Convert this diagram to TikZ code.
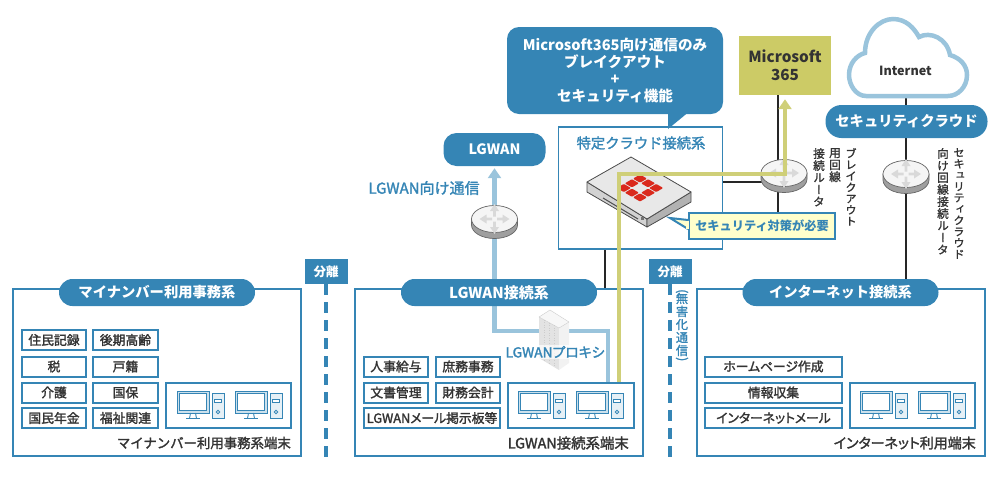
\documentclass[tikz,border=0pt]{standalone}
\usepackage{fontspec}
\setmainfont{Noto Sans CJK JP}
\newfontfamily\medfont[FakeBold=1.8]{Noto Sans CJK JP}
\newfontfamily\medfit[FakeBold=1.8, RawFeature=+palt]{Noto Sans CJK JP}
\newfontfamily\tatefont[FakeBold=1.5, RawFeature=+vert]{Noto Sans CJK JP}
\usepackage{tikz}
\usetikzlibrary{arrows.meta,backgrounds}

\definecolor{nwblue}{HTML}{3585B5}
\definecolor{nwpale}{HTML}{9AC4DC}
\definecolor{nwtext}{HTML}{333333}
\definecolor{msgreen}{HTML}{CCCB66}
\definecolor{msline}{HTML}{CFCF78}
\definecolor{alertfill}{HTML}{FFFFCC}
\definecolor{fortired}{HTML}{DA291C}

\newcommand{\sz}[1]{\fontsize{#1}{#1}\selectfont}
\newcommand{\tatesz}[2]{\tatefont\fontsize{#1}{#2}\selectfont\lineskiplimit-20pt\relax}

\tikzset{
  zonebox/.style={draw=nwblue, line width=2pt, minimum width=288pt, minimum height=167pt, inner sep=0pt},
  zonepill/.style={fill=nwblue, text=white, rounded corners=13.5pt, minimum width=196pt, minimum height=27pt, inner sep=0pt, font=\sz{14.3}\bfseries},
  jobbox/.style={draw=nwblue, line width=2pt, fill=white, text=nwtext, minimum width=64pt, minimum height=20pt, inner sep=0pt, font=\medfont\sz{12.8}},
  fitbox/.style={jobbox, font=\medfit\sz{12.8}},
  termbox/.style={draw=nwblue, line width=2pt, fill=white, minimum width=125pt, minimum height=45pt, inner sep=0pt},
  termlabel/.style={text=nwtext, anchor=east, inner sep=0pt, font=\medfont\sz{13.4}},
  sepbox/.style={fill=nwblue, text=white, minimum width=43pt, minimum height=25pt, inner sep=0pt, font=\sz{12.5}\bfseries},
  sepline/.style={draw=nwblue, line width=3.3pt, dash pattern=on 11pt off 7pt},
  blackline/.style={draw=black!85, line width=2pt},
  palelink/.style={draw=nwpale, line width=4.5pt, -{Triangle[width=13pt,length=10pt]}},
  brklink/.style={draw=msline, line width=4.5pt, -{Triangle[width=13pt,length=10pt]}},
  pcline/.style={draw=nwblue, line width=0.9pt},
  tate/.style={text=nwtext, anchor=north, align=center, inner sep=0pt, font=\tatesz{11.2}{11.3}},
  tatewide/.style={tate, font=\tatesz{11.6}{12}},
}

% two computers
\newcommand{\pcset}[2]{
  \foreach \dx in {0,58} {
    \begin{scope}[shift={(#1+\dx,#2)}]
      \draw[pcline, fill=nwpale!50] (0,0) rectangle (32,22);
      \draw[pcline, fill=white] (2.5,2.5) rectangle (29.5,19.5);
      \draw[pcline] (13.5,22) -- (12.5,27.5) -- (19.5,27.5) -- (18.5,22);
      \draw[pcline] (9,27.5) -- (23,27.5);
      \draw[pcline, fill=nwpale!25] (35,2) rectangle (47,27.5);
      \draw[pcline, fill=white] (37.5,8) rectangle (44.5,11);
      \draw[pcline, fill=white] (41,21) circle (1.7);
    \end{scope}
  }
}

% router seen from above
\newcommand{\routernode}[3]{
  \coordinate (#1) at (#2,#3);
  \begin{scope}[shift={(#2,#3)}]
    \fill[gray!75, draw=black!60, line width=0.7pt] (-23,-3) -- (-23,3) arc[start angle=180, end angle=360, x radius=23, y radius=-13.5] -- (23,-3) -- cycle;
    \draw[fill=gray!8, draw=black!60, line width=0.7pt] (0,-3) ellipse (23 and 13.5);
    \foreach \ang in {0,90,180,270} {
      \fill[gray!30, shift={(0,-3)}, rotate=\ang] (2.5,-1.4) -- (8,-1.4) -- (8,-4.5) -- (15,0) -- (8,4.5) -- (8,1.4) -- (2.5,1.4) -- cycle;
    }
  \end{scope}
}

\begin{document}
\begin{tikzpicture}[x=1pt, y=-1pt]
  \useasboundingbox (0,0) rectangle (1000,480);

  % zones
  \node[zonebox] (mynabox) at (156.5,372.5) {};
  \node[zonebox] (lgwanbox) at (498.5,372.5) {};
  \node[zonebox] (inetbox) at (840.5,372.5) {};
  \node[zonepill] (mynapill) at (157,292.5) {マイナンバー利用事務系};
  \node[zonepill, font=\sz{15}\bfseries] (lgwanpill) at (499,292.5) {LGWAN接続系};
  \node[zonepill] (inetpill) at (840.5,292.5) {インターネット接続系};

  % my number jobs
  \node[jobbox] (juki) at (54,340) {住民記録};
  \node[jobbox] (zei) at (54,366.5) {税};
  \node[jobbox] (kaigo) at (54,392.5) {介護};
  \node[jobbox] (nenkin) at (54,418) {国民年金};
  \node[jobbox, minimum width=65pt] (kouki) at (125.5,340) {後期高齢};
  \node[jobbox, minimum width=65pt] (koseki) at (125.5,366.5) {戸籍};
  \node[jobbox, minimum width=65pt] (kokuho) at (125.5,392.5) {国保};
  \node[jobbox, minimum width=65pt] (fukushi) at (125.5,418) {福祉関連};
  \node[termbox] (mynaterm) at (228.5,405.5) {};
  \pcset{177}{391}
  \node[termlabel] (mynalabel) at (291,443) {マイナンバー利用事務系端末};

  % lgwan jobs
  \node[jobbox] (kyuyo) at (396,366.5) {人事給与};
  \node[jobbox] (shomu) at (468,366.5) {庶務事務};
  \node[jobbox] (bunsho) at (396,392.5) {文書管理};
  \node[jobbox] (zaimu) at (468,392.5) {財務会計};
  \node[fitbox, minimum width=136pt] (mail) at (432,418) {LGWANメール掲示板等};
  \node[termbox, minimum width=126pt] (lgwanterm) at (571,405.5) {};
  \pcset{518}{391}
  \node[termlabel, font=\medfont\sz{14.4}] (lgwanlabel) at (629,443) {LGWAN接続系端末};

  % internet jobs
  \node[fitbox, minimum width=137pt] (home) at (773.5,366.5) {ホームページ作成};
  \node[jobbox, minimum width=137pt] (joho) at (773.5,392.5) {情報収集};
  \node[fitbox, minimum width=137pt] (imail) at (773.5,418) {インターネットメール};
  \node[termbox] (inetterm) at (912.5,405.5) {};
  \pcset{860}{391}
  \node[termlabel, font=\medfit\sz{14}] (inetlabel) at (976,443) {インターネット利用端末};

  % separation
  \node[sepbox] (sep1) at (326,271.5) {分離};
  \node[sepbox] (sep2) at (670,271.5) {分離};
  \coordinate (sepend1) at (326,457);
  \coordinate (sepend2) at (670,457);
  \draw[sepline] (sep1.south) -- (sepend1);
  \draw[sepline] (sep2.south) -- (sepend2);
  \node[tate, text=nwblue, font=\tatesz{12.2}{13}] (mugai) at (682,289) {\rotatebox[origin=c]{-90}{(}\\[-5pt]無\\害\\化\\通\\信\\[-5pt]\rotatebox[origin=c]{-90}{)}};

  % upper part
  \node[fill=nwblue, text=white, rounded corners=13pt, minimum width=102pt, minimum height=33pt, inner sep=0pt, font=\sz{14.3}\bfseries] (lgwan) at (494.5,149.5) {LGWAN};
  \node[text=nwblue, inner sep=0pt, font=\medfont\sz{15}] (lgwantxt) at (424,188) {LGWAN向け通信};

  \node[fill=nwblue, text=white, rounded corners=12pt, minimum width=216pt, minimum height=87pt, align=center, inner sep=0pt, font=\fontsize{14.6}{17}\selectfont\bfseries] (callout) at (615,70.5) {Microsoft365向け通信のみ\\ブレイクアウト\\+\\セキュリティ機能};
  \coordinate (callouttip) at (668,129);
  \fill[nwblue] ([xshift=53pt]callout.south) -- (callouttip) -- ([xshift=71pt]callout.south) -- cycle;

  \node[draw=nwblue, line width=1.2pt, minimum width=164pt, minimum height=122pt, inner sep=0pt] (fgbox) at (640.5,188) {};
  \node[text=nwblue, inner sep=0pt, font=\medfont\sz{14.3}] (fgtitle) at (641,143) {特定クラウド接続系};

  \node[fill=msgreen, text=nwtext, minimum width=92pt, minimum height=59pt, align=center, inner sep=0pt, font=\fontsize{15.3}{18}\selectfont\bfseries] (msbox) at (785,65.5) {Microsoft\\365};

  % cloud
  \draw[draw=nwpale, line width=4.5pt, fill=white] (866,96) .. controls (856,96) and (849,85) .. (849,75) .. controls (849,63) and (857,55) .. (865,53) .. controls (865,32) and (880,19) .. (893,19) .. controls (906,19) and (914,28) .. (919,37) .. controls (930,31) and (947,38) .. (950,55) .. controls (960,58) and (967,65) .. (967,75) .. controls (967,87) and (958,96) .. (948,96) -- cycle;
  \node[text=nwtext, inner sep=0pt, font=\sz{12.6}\bfseries] (internet) at (905.5,71) {Internet};
  \coordinate (cloudbase) at (906,98);
  \node[fill=nwblue, text=white, rounded corners=16pt, minimum width=162pt, minimum height=33pt, inner sep=0pt, font=\sz{14.3}\bfseries] (secpill) at (906.5,121.5) {セキュリティクラウド};

  % firewall box
  \fill[gray!35, draw=black!70, line width=0.8pt, line join=round] (587,182) -- (647,219) -- (647,227) -- (587,192) -- cycle;
  \fill[gray!60, draw=black!70, line width=0.8pt, line join=round] (647,219) -- (691,192) -- (691,202) -- (647,227) -- cycle;
  \fill[gray!18, draw=black!70, line width=0.8pt, line join=round] (587,182) -- (631,157) -- (691,192) -- (647,219) -- cycle;
  \draw[black!70, line width=1pt] (603,198) -- (638,219);
  \fill[black!55] (641,217) rectangle (644,220);
  \begin{scope}[shift={(640,188)}, x={(0.86pt,-0.5pt)}, y={(0.86pt,0.5pt)}]
    \foreach \i/\j in {-1/-1,-1/0,-1/1,0/-1,0/1,1/-1,1/0,1/1} {
      \fill[fortired, rounded corners=1pt] (\i*9.4-4.1,\j*9.4-4.1) -- ++(8.2,0) -- ++(0,8.2) -- ++(-8.2,0) -- cycle;
    }
  \end{scope}

  % routers
  \routernode{router1}{494.5}{222}
  \routernode{router2}{784}{176}
  \routernode{router3}{906}{177}

  % alert
  \node[draw=nwblue, line width=2pt, fill=alertfill, text=nwblue, minimum width=146pt, minimum height=26pt, inner sep=0pt] (alert) at (762,226) {};
  \coordinate (alerttip) at (670,218);
  \draw[nwblue, line width=2pt, fill=alertfill, line join=miter] ([yshift=6pt]alert.west) -- (alerttip) -- ([yshift=-3pt]alert.west);
  \fill[alertfill] ([xshift=1pt,yshift=5pt]alert.west) rectangle ([xshift=-2pt,yshift=-2.5pt]alert.west);
  \node[text=nwblue, inner sep=0pt, font=\sz{12.2}\bfseries] (alerttxt) at (alert) {セキュリティ対策が必要};

  % router captions
  \node[tate] (brk3) at (851,148) {ブ\\レ\\イ\\ク\\ア\\ウ\\ト};
  \node[tatewide] (brk2) at (835,148) {用\\回\\線};
  \node[tatewide] (brk1) at (819,148) {接\\続\\ル\\ー\\タ};
  \node[tate] (sec2) at (959,148) {セ\\キ\\ュ\\リ\\テ\\ィ\\ク\\ラ\\ウ\\ド};
  \node[tatewide] (sec1) at (943,148) {向\\け\\回\\線\\接\\続\\ル\\ー\\タ};

  % proxy tower
  \fill[gray!22] (539,317) -- (559,328) -- (559,370) -- (539,358) -- cycle;
  \fill[gray!10] (559,328) -- (569,322) -- (569,363) -- (559,370) -- cycle;
  \fill[gray!6, draw=gray!40, line width=0.4pt] (539,317) -- (550,310) -- (569,322) -- (559,328) -- cycle;
  \foreach \k in {1,2,3} {
    \draw[gray!40, line width=0.5pt, dotted] (539+\k*5,317+\k*2.8) -- (539+\k*5,358+\k*2.8);
  }
  \node[fill=white, fill opacity=0.7, text opacity=1, text=nwblue, inner sep=1pt, font=\medfit\sz{13.8}] (proxy) at (555,352) {LGWANプロキシ};
  \coordinate (proxybend) at (551,331);

  % links behind the nodes
  \begin{scope}[on background layer]
    \draw[blackline] ([xshift=-7pt]msbox.south) -- ([xshift=-7pt]msbox.south |- alert.north);
    \draw[blackline] (fgbox.east |- 0,182) -- ([yshift=-6pt]router2);
    \draw[blackline] (cloudbase) -- (router3) -- (router3 |- inetbox.north);
    \draw[blackline] ([xshift=-35.5pt]fgbox.south) -- ([xshift=-35.5pt]fgbox.south |- lgwanbox.north);
    \draw[palelink] ([xshift=37pt]lgwanterm.north) |- (router1 |- proxybend) -- ([yshift=-2pt]lgwan.south);
  \end{scope}

  % breakout path
  \coordinate (brkbend) at (785,174);
  \draw[brklink] ([xshift=48pt]lgwanterm.north) |- (brkbend) -- ([yshift=-4pt]msbox.south);
\end{tikzpicture}
\end{document}
